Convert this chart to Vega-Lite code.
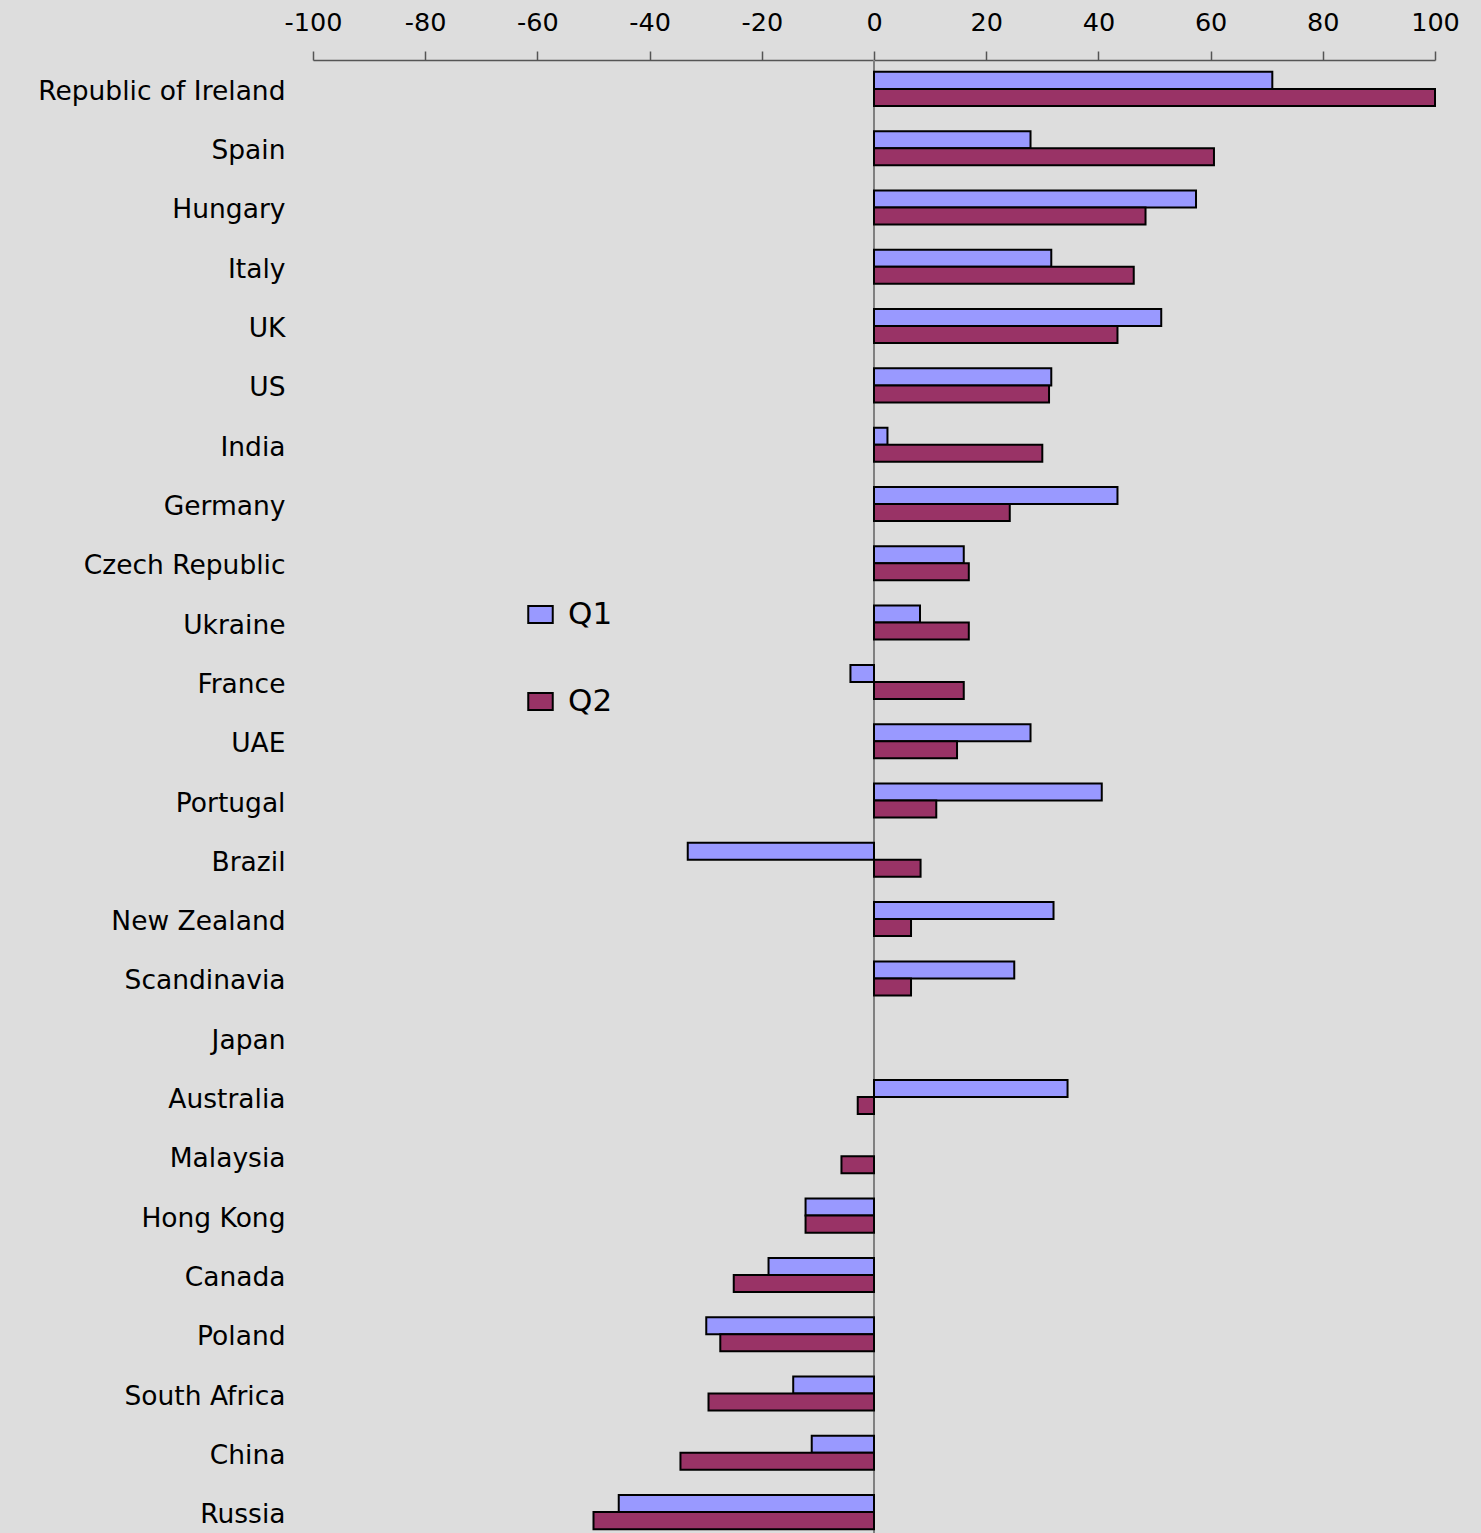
{
  "$schema": "https://vega.github.io/schema/vega-lite/v6.json",
  "width": 1122,
  "height": 1481,
  "autosize": {"type": "none"},
  "padding": {"left": 313, "top": 60, "right": 46, "bottom": 0},
  "background": "#DDDDDD",
  "config": {"view": {"stroke": null}, "font": "DejaVu Sans"},
  "data": {
    "values": [
      {"country": "Republic of Ireland", "quarter": "Q1", "value": 71},
      {"country": "Republic of Ireland", "quarter": "Q2", "value": 100},
      {"country": "Spain", "quarter": "Q1", "value": 27.9},
      {"country": "Spain", "quarter": "Q2", "value": 60.6},
      {"country": "Hungary", "quarter": "Q1", "value": 57.4},
      {"country": "Hungary", "quarter": "Q2", "value": 48.4},
      {"country": "Italy", "quarter": "Q1", "value": 31.6},
      {"country": "Italy", "quarter": "Q2", "value": 46.3},
      {"country": "UK", "quarter": "Q1", "value": 51.2},
      {"country": "UK", "quarter": "Q2", "value": 43.4},
      {"country": "US", "quarter": "Q1", "value": 31.6},
      {"country": "US", "quarter": "Q2", "value": 31.2},
      {"country": "India", "quarter": "Q1", "value": 2.4},
      {"country": "India", "quarter": "Q2", "value": 30.0},
      {"country": "Germany", "quarter": "Q1", "value": 43.4},
      {"country": "Germany", "quarter": "Q2", "value": 24.2},
      {"country": "Czech Republic", "quarter": "Q1", "value": 16.0},
      {"country": "Czech Republic", "quarter": "Q2", "value": 16.9},
      {"country": "Ukraine", "quarter": "Q1", "value": 8.2},
      {"country": "Ukraine", "quarter": "Q2", "value": 16.9},
      {"country": "France", "quarter": "Q1", "value": -4.2},
      {"country": "France", "quarter": "Q2", "value": 16.0},
      {"country": "UAE", "quarter": "Q1", "value": 27.9},
      {"country": "UAE", "quarter": "Q2", "value": 14.8},
      {"country": "Portugal", "quarter": "Q1", "value": 40.6},
      {"country": "Portugal", "quarter": "Q2", "value": 11.1},
      {"country": "Brazil", "quarter": "Q1", "value": -33.2},
      {"country": "Brazil", "quarter": "Q2", "value": 8.3},
      {"country": "New Zealand", "quarter": "Q1", "value": 32.0},
      {"country": "New Zealand", "quarter": "Q2", "value": 6.6},
      {"country": "Scandinavia", "quarter": "Q1", "value": 25.0},
      {"country": "Scandinavia", "quarter": "Q2", "value": 6.6},
      {"country": "Australia", "quarter": "Q1", "value": 34.5},
      {"country": "Australia", "quarter": "Q2", "value": -2.9},
      {"country": "Malaysia", "quarter": "Q2", "value": -5.8},
      {"country": "Hong Kong", "quarter": "Q1", "value": -12.2},
      {"country": "Hong Kong", "quarter": "Q2", "value": -12.2},
      {"country": "Canada", "quarter": "Q1", "value": -18.8},
      {"country": "Canada", "quarter": "Q2", "value": -25.0},
      {"country": "Poland", "quarter": "Q1", "value": -29.9},
      {"country": "Poland", "quarter": "Q2", "value": -27.4},
      {"country": "South Africa", "quarter": "Q1", "value": -14.4},
      {"country": "South Africa", "quarter": "Q2", "value": -29.5},
      {"country": "China", "quarter": "Q1", "value": -11.1},
      {"country": "China", "quarter": "Q2", "value": -34.5},
      {"country": "Russia", "quarter": "Q1", "value": -45.5},
      {"country": "Russia", "quarter": "Q2", "value": -50.0}
    ]
  },
  "layer": [
    {
      "mark": {"type": "rule", "color": "#808080", "strokeWidth": 1.5},
      "encoding": {
        "x": {"datum": 0, "type": "quantitative"}
      }
    },
    {
      "mark": {"type": "bar", "stroke": "black", "strokeWidth": 2},
      "encoding": {
        "y": {
          "field": "country",
          "type": "nominal",
          "sort": ["Republic of Ireland", "Spain", "Hungary", "Italy", "UK", "US", "India", "Germany", "Czech Republic", "Ukraine", "France", "UAE", "Portugal", "Brazil", "New Zealand", "Scandinavia", "Japan", "Australia", "Malaysia", "Hong Kong", "Canada", "Poland", "South Africa", "China", "Russia"],
          "scale": {
            "domain": ["Republic of Ireland", "Spain", "Hungary", "Italy", "UK", "US", "India", "Germany", "Czech Republic", "Ukraine", "France", "UAE", "Portugal", "Brazil", "New Zealand", "Scandinavia", "Japan", "Australia", "Malaysia", "Hong Kong", "Canada", "Poland", "South Africa", "China", "Russia"],
            "paddingInner": 0.426,
            "paddingOuter": 0.2
          },
          "axis": {
            "orient": "left",
            "title": null,
            "domain": false,
            "ticks": false,
            "tickSize": 0,
            "grid": false,
            "labelPadding": 28,
            "labelOffset": 3,
            "labelFontSize": 26.5,
            "labelColor": "black",
            "labelFont": "DejaVu Sans",
            "labelLimit": 400
          }
        },
        "yOffset": {
          "field": "quarter",
          "type": "nominal",
          "scale": {"domain": ["Q1", "Q2"], "paddingInner": 0, "paddingOuter": 0}
        },
        "x": {
          "field": "value",
          "type": "quantitative",
          "scale": {"domain": [-100, 100], "nice": false, "zero": false},
          "axis": {
            "orient": "top",
            "title": null,
            "values": [-100, -80, -60, -40, -20, 0, 20, 40, 60, 80, 100],
            "labelExpr": "replace(datum.label, '\u2212', '-')",
            "grid": false,
            "domainColor": "#555555",
            "domainWidth": 1.5,
            "tickColor": "#555555",
            "tickWidth": 1.5,
            "tickSize": 9,
            "labelPadding": 16,
            "labelFontSize": 25.5,
            "labelColor": "black",
            "labelFont": "DejaVu Sans",
            "labelFlush": false,
            "labelOverlap": false
          }
        },
        "color": {
          "field": "quarter",
          "type": "nominal",
          "scale": {"domain": ["Q1", "Q2"], "range": ["#9999FF", "#993366"]},
          "legend": {
            "orient": "none",
            "legendX": 212,
            "legendY": 539,
            "title": null,
            "direction": "vertical",
            "padding": 0,
            "symbolType": "M-1,-0.69L1,-0.69L1,0.69L-1,0.69Z",
            "symbolSize": 600,
            "symbolStrokeColor": "black",
            "symbolStrokeWidth": 2,
            "symbolOpacity": 1,
            "labelFontSize": 31,
            "labelFont": "DejaVu Sans",
            "labelColor": "black",
            "labelOffset": 12,
            "rowPadding": 55
          }
        }
      }
    }
  ]
}
